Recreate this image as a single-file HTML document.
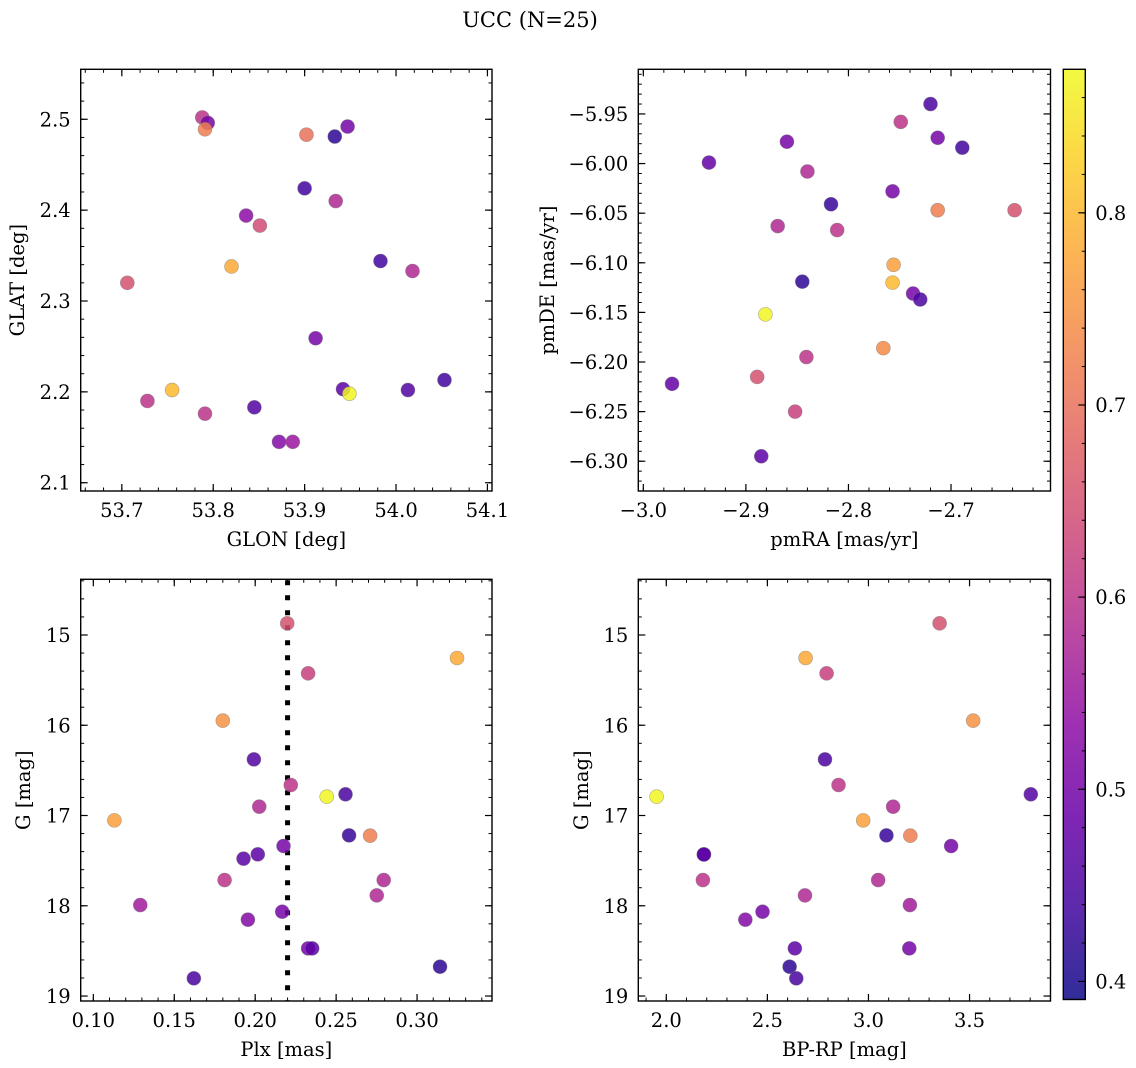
<!DOCTYPE html>
<html><head><meta charset="utf-8">
<style>
html,body{margin:0;padding:0;background:#fff;}
svg{display:block;font-family:"DejaVu Serif","Liberation Serif",serif;}
</style></head>
<body>
<svg id="fig" width="1136" height="1068" viewBox="0 0 1136 1068" xmlns="http://www.w3.org/2000/svg">
<rect width="1136" height="1068" fill="#fff"/>
<text x="530" y="27" font-size="21" text-anchor="middle">UCC (N=25)</text>
<g id="plots"></g>
</svg>
<script>
// Panel 1: GLON vs GLAT
const glonX = [53.788,53.794,53.791,53.902,53.933,53.947,53.900,53.934,53.836,53.851,53.820,53.983,54.018,53.706,53.912,53.755,53.728,53.791,53.845,53.942,53.949,54.013,54.053,53.872,53.887];
const glatY = [2.502,2.496,2.489,2.483,2.481,2.492,2.424,2.410,2.394,2.383,2.338,2.344,2.333,2.320,2.259,2.202,2.190,2.176,2.183,2.203,2.198,2.202,2.213,2.145,2.145];
const glonC = [0.60,0.50,0.72,0.70,0.42,0.50,0.44,0.58,0.53,0.64,0.78,0.44,0.58,0.65,0.50,0.80,0.60,0.60,0.46,0.47,0.87,0.46,0.44,0.52,0.55];
// Panel 2: pmRA vs pmDE
const pmraX = [-2.720,-2.749,-2.713,-2.689,-2.860,-2.936,-2.840,-2.757,-2.817,-2.713,-2.638,-2.869,-2.811,-2.756,-2.757,-2.845,-2.737,-2.730,-2.881,-2.766,-2.841,-2.889,-2.972,-2.852,-2.885];
const pmdeY = [-5.940,-5.958,-5.974,-5.984,-5.978,-5.999,-6.008,-6.028,-6.041,-6.047,-6.047,-6.063,-6.067,-6.102,-6.120,-6.119,-6.131,-6.137,-6.152,-6.186,-6.195,-6.215,-6.222,-6.250,-6.295];
const pmC = [0.45,0.60,0.50,0.44,0.50,0.48,0.58,0.50,0.43,0.72,0.65,0.58,0.60,0.77,0.80,0.42,0.50,0.45,0.87,0.74,0.60,0.65,0.48,0.62,0.47];
// Panel 3: Plx vs G
const plxX = [0.2198,0.3247,0.2327,0.1800,0.1992,0.2220,0.2442,0.2558,0.2025,0.1130,0.2580,0.2710,0.2175,0.2016,0.1928,0.1811,0.2794,0.2751,0.1290,0.2167,0.1955,0.2327,0.2352,0.3142,0.1621];
const plxG = [14.871,15.255,15.425,15.949,16.378,16.662,16.791,16.765,16.902,17.054,17.220,17.223,17.338,17.430,17.478,17.715,17.715,17.885,17.992,18.066,18.154,18.472,18.472,18.675,18.804];
const plxC = [0.65,0.78,0.62,0.75,0.46,0.60,0.87,0.45,0.58,0.77,0.43,0.72,0.50,0.47,0.47,0.60,0.58,0.58,0.56,0.50,0.52,0.50,0.47,0.42,0.45];
const plxLine = [0.220];
// Panel 4: BP-RP vs G
const bprpX = [3.352,2.689,2.793,3.518,2.785,2.852,1.952,3.803,3.122,2.974,3.089,3.207,3.409,2.186,2.181,3.048,2.686,3.205,2.476,2.391,2.636,3.202,2.610,2.643,2.186];
const bprpG = [14.871,15.255,15.425,15.949,16.378,16.662,16.791,16.765,16.902,17.054,17.220,17.223,17.338,17.430,17.715,17.715,17.885,17.992,18.066,18.154,18.472,18.472,18.675,18.804,17.432];
const bprpC = [0.65,0.78,0.62,0.75,0.45,0.60,0.87,0.46,0.58,0.77,0.43,0.72,0.50,0.47,0.60,0.58,0.58,0.56,0.50,0.52,0.47,0.50,0.42,0.45,0.47];
// Tick labels
const ticks1x = [53.7,53.8,53.9,54.0,54.1];
const ticks1y = [2.1,2.2,2.3,2.4,2.5];
const ticks2x = [-3.0,-2.9,-2.8,-2.7];
const ticks2y = [-6.30,-6.25,-6.20,-6.15,-6.10,-6.05,-6.00,-5.95];
const ticks3x = [0.10,0.15,0.20,0.25,0.30];
const ticksG = [15,16,17,18,19];
const ticks4x = [2.0,2.5,3.0,3.5];
const cbarTicks = [0.4,0.5,0.6,0.7,0.8];
const cmin = 0.3906, cmax = 0.8747;

const FS = 19.5;
const NS = "http://www.w3.org/2000/svg";
const root = document.getElementById('plots');
function mk(tag, attrs, parent){ const e=document.createElementNS(NS,tag); for(const k in attrs) e.setAttribute(k,attrs[k]); (parent||root).appendChild(e); return e; }

const plasma = [[13,8,135],[65,4,157],[106,0,168],[143,13,164],[177,42,144],[204,71,120],[225,100,98],[242,132,75],[252,166,54],[252,206,37],[240,249,33]];
function cmap(v){
  let t=(v-cmin)/(cmax-cmin); t=Math.max(0,Math.min(1,t));
  const s=t*10, i=Math.min(9,Math.floor(s)), f=s-i;
  const a=plasma[i], b=plasma[i+1];
  return 'rgb('+[0,1,2].map(k=>Math.round(a[k]+(b[k]-a[k])*f)).join(',')+')';
}
function fmt(v,d){ const s=Math.abs(v).toFixed(d); return (v<0?'\u2212':'')+s; }

function panel(cfg){
  const {L,R,T,B,x0,x1,y0,y1,inv} = cfg;
  const sx = v => L+(v-x0)/(x1-x0)*(R-L);
  const sy = v => inv ? T+(v-y1)/(y0-y1)*(B-T) : B-(v-y0)/(y1-y0)*(B-T);
  const g = mk('g',{});
  
  
  const eps=1e-9;
  for(let v=Math.ceil(Math.min(x0,x1)/cfg.mx-eps)*cfg.mx; v<=Math.max(x0,x1)+eps; v+=cfg.mx){
    const x=sx(v); if(x<L-0.5||x>R+0.5) continue;
    mk('line',{x1:x,x2:x,y1:B,y2:B-3.5,stroke:'#000','stroke-width':1},g);
    mk('line',{x1:x,x2:x,y1:T,y2:T+3.5,stroke:'#000','stroke-width':1},g);
  }
  const ylo=Math.min(y0,y1), yhi=Math.max(y0,y1);
  for(let v=Math.ceil(ylo/cfg.my-eps)*cfg.my; v<=yhi+eps; v+=cfg.my){
    const y=sy(v); if(y<T-0.5||y>B+0.5) continue;
    mk('line',{x1:L,x2:L+3.5,y1:y,y2:y,stroke:'#000','stroke-width':1},g);
    mk('line',{x1:R,x2:R-3.5,y1:y,y2:y,stroke:'#000','stroke-width':1},g);
  }
  cfg.tx.forEach(v=>{
    const x=sx(v);
    mk('line',{x1:x,x2:x,y1:B,y2:B-7,stroke:'#000','stroke-width':1.2},g);
    mk('line',{x1:x,x2:x,y1:T,y2:T+7,stroke:'#000','stroke-width':1.2},g);
    const t=mk('text',{x:x,y:B+26,'font-size':FS,'text-anchor':'middle'},g);
    
    
    t.textContent=fmt(v,cfg.dx);
  });
  cfg.ty.forEach(v=>{
    const y=sy(v);
    mk('line',{x1:L,x2:L+7,y1:y,y2:y,stroke:'#000','stroke-width':1.2},g);
    mk('line',{x1:R,x2:R-7,y1:y,y2:y,stroke:'#000','stroke-width':1.2},g);
    const t=mk('text',{x:L-10,y:y+7,'font-size':FS,'text-anchor':'end'},g);
    
    
    t.textContent=fmt(v,cfg.dy);
  });
  if(cfg.vline){
    cfg.vline.forEach(v=>{
      const l=mk('line',{x1:sx(v),x2:sx(v),y1:T+1,y2:B,stroke:'#000','stroke-width':5,'stroke-dasharray':'5 10'},g);
      
      
    });
  }
  cfg.xs.forEach((xv,i)=>{
    const c=mk('circle',{cx:sx(xv),cy:sy(cfg.ys[i]),r:7,fill:cmap(cfg.cs[i]),'fill-opacity':0.85,stroke:'#777','stroke-opacity':0.6,'stroke-width':0.6},g);
    
    
  });
  mk('rect',{x:L,y:T,width:R-L,height:B-T,fill:'none',stroke:'#000','stroke-width':1.4},g);
  const xl=mk('text',{x:(L+R)/2,y:B+55,'font-size':FS,'text-anchor':'middle'},g);
  
  
  xl.textContent=cfg.xlab;
  const yl=mk('text',{x:cfg.ylx,y:(T+B)/2,'font-size':FS,'text-anchor':'middle',transform:'rotate(-90 '+cfg.ylx+' '+(T+B)/2+')'},g);
  
  
  yl.textContent=cfg.ylab;
}

panel({name:'glon-glat-panel',L:80.7,R:492,T:69.3,B:491,x0:53.655,x1:54.105,y0:2.0909,y1:2.555,tx:ticks1x,ty:ticks1y,mx:0.02,my:0.02,dx:1,dy:1,xs:glonX,ys:glatY,cs:glonC,xlab:'GLON [deg]',ylab:'GLAT [deg]',ylx:24});
panel({name:'pm-panel',L:638.3,R:1050.5,T:69.3,B:491,x0:-3.0049,x1:-2.603,y0:-6.330,y1:-5.905,tx:ticks2x,ty:ticks2y,mx:0.02,my:0.01,dx:1,dy:2,xs:pmraX,ys:pmdeY,cs:pmC,xlab:'pmRA [mas/yr]',ylab:'pmDE [mas/yr]',ylx:554});
panel({name:'plx-g-panel',L:80.7,R:492,T:579.3,B:1001,x0:0.0922,x1:0.3463,y0:19.055,y1:14.383,inv:true,tx:ticks3x,ty:ticksG,mx:0.01,my:0.2,dx:2,dy:0,xs:plxX,ys:plxG,cs:plxC,vline:plxLine,xlab:'Plx [mas]',ylab:'G [mag]',ylx:30});
panel({name:'cmd-panel',L:638.3,R:1050.5,T:579.3,B:1001,x0:1.8615,x1:3.9005,y0:19.055,y1:14.383,inv:true,tx:ticks4x,ty:ticksG,mx:0.1,my:0.2,dx:1,dy:0,xs:bprpX,ys:bprpG,cs:bprpC,xlab:'BP-RP [mag]',ylab:'G [mag]',ylx:588});

// Colorbar
(function(){
  const L=1063.3,R=1085.3,T=69.3,B=999.5;
  const g=mk('g',{});
  
  
  const defs=mk('defs',{},g);
  const grad=mk('linearGradient',{id:'cg',x1:0,y1:1,x2:0,y2:0},defs);
  for(let i=0;i<=20;i++){
    const v=cmin+(cmax-cmin)*i/20;
    mk('stop',{offset:(i/20),'stop-color':cmap(v),'stop-opacity':0.85},grad);
  }
  mk('rect',{x:L,y:T,width:R-L,height:B-T,fill:'url(#cg)'},g);
  const sy=v=>B-(v-cmin)/(cmax-cmin)*(B-T);
  for(let v=0.40;v<=cmax+1e-9;v+=0.02){
    if(v<cmin) continue;
    mk('line',{x1:R,x2:R-3.5,y1:sy(v),y2:sy(v),stroke:'#000','stroke-width':1},g);
  }
  cbarTicks.forEach(v=>{
    const y=sy(v);
    mk('line',{x1:R,x2:R-7,y1:y,y2:y,stroke:'#000','stroke-width':1.2},g);
    const t=mk('text',{x:R+10,y:y+7,'font-size':FS},g);
    
    
    t.textContent=v.toFixed(1);
  });
  mk('rect',{x:L,y:T,width:R-L,height:B-T,fill:'none',stroke:'#000','stroke-width':1.4},g);
})();
</script>
</body></html>
